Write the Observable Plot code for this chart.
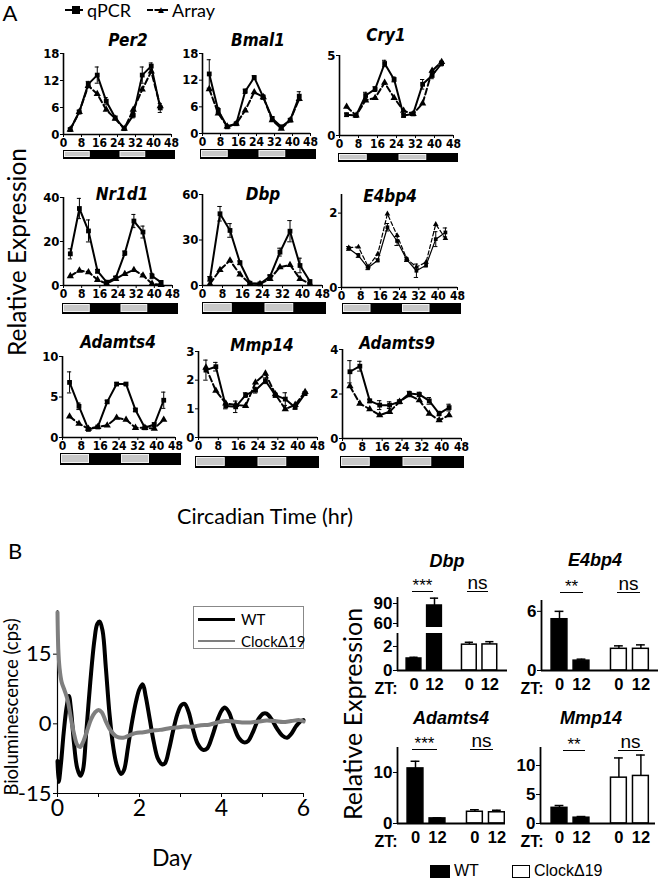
<!DOCTYPE html>
<html><head><meta charset="utf-8">
<script src="https://cdn.jsdelivr.net/npm/d3@7"></script>
<script src="https://cdn.jsdelivr.net/npm/@observablehq/plot@0.6"></script>
<style>
body{margin:0;background:#fff;}
#root{position:relative;width:663px;height:881px;overflow:hidden;background:#fff;font-family:Lato,sans-serif;color:#000;}
.t{position:absolute;white-space:nowrap;transform:translate(-50%,-50%);line-height:1;}
.l{position:absolute;white-space:nowrap;transform:translate(0,-50%);line-height:1;}
.abs{position:absolute;}
svg{overflow:visible;}
</style></head><body><div id="root"></div>
<script>
// ---------- Panel A data ----------
const ct = [3,7,11,15,19,23,27,31,35,39,43];
const xTicks = [0,8,16,24,32,40,48];
const phaseStart = [0,12,24,36];
const phaseEnd = [12,24,36,48];
const phaseLight = [true,false,true,false];

const per2Q = [1.1,5.0,11.2,13.2,7.4,3.7,1.3,4.3,13.2,15.2,5.9];
const per2A = [1.1,5.0,10.8,9.0,5.5,3.5,1.3,5.5,10.0,14.0,6.3];
const per2E = [0.3,0.4,0.6,1.8,0.8,0.3,0.3,0.6,1.8,0.7,1.0];

const bmal1Q = [13.4,5.2,1.5,2.2,9.5,12.6,8.2,3.4,1.5,3.0,8.4];
const bmal1A = [10.0,4.5,1.6,2.2,5.2,9.3,8.2,3.0,1.1,3.0,7.8];
const bmal1E = [3.2,0.6,0.3,0.3,0.5,0.4,0.5,0.4,0.3,0.3,1.0];

const cry1Q = [1.3,1.25,2.5,2.9,4.5,3.5,1.25,1.35,3.2,3.75,4.5];
const cry1A = [1.8,1.25,2.2,2.35,3.3,2.35,1.55,1.35,2.0,4.05,4.6];
const cry1E = [0.1,0.1,0.2,0.15,0.2,0.15,0.1,0.1,0.3,0.2,0.15];

const nr1d1Q = [14.4,35.0,24.8,6.5,1.5,3.5,14.7,29.3,24.3,4.3,1.4];
const nr1d1A = [4.3,6.8,6.1,2.6,0.8,3.0,5.3,7.1,4.6,0.8,0.3];
const nr1d1E = [2.3,4.6,5.0,0.8,0.5,0.6,1.0,3.0,2.7,1.2,0.4];

const dbpQ = [4.4,47.3,36.3,15.0,1.5,1.1,5.9,22.0,35.8,13.2,2.6];
const dbpA = [1.1,10.3,16.5,7.3,1.1,1.1,4.4,12.1,13.6,4.4,1.1];
const dbpE = [1.5,4.8,4.5,1.2,0.5,0.5,1.0,2.6,7.0,4.8,1.0];

const e4bp4Q = [1.05,0.86,0.53,0.73,1.62,1.25,0.75,0.45,0.6,1.3,1.48];
const e4bp4A = [1.07,1.09,0.56,0.9,1.98,1.4,0.77,0.55,0.68,1.7,1.32];
const e4bp4E = [0.05,0.05,0.05,0.04,0.1,0.12,0.05,0.18,0.05,0.2,0.12];

const adamts4Q = [6.8,3.85,1.0,1.3,4.4,6.6,6.6,3.4,1.2,1.6,4.6];
const adamts4A = [2.6,1.7,1.1,1.3,1.5,2.45,2.2,1.2,1.2,1.1,2.2];
const adamts4E = [1.3,0.4,0.1,0.1,0.2,0.15,0.15,0.2,0.1,0.2,1.0];

const mmp14Q = [2.35,2.47,1.1,1.07,1.48,1.65,1.98,1.48,1.34,1.05,1.53];
const mmp14A = [2.44,1.63,1.19,1.14,1.1,1.92,2.23,1.51,0.99,1.14,1.59];
const mmp14E = [0.35,0.15,0.1,0.2,0.08,0.1,0.1,0.08,0.22,0.06,0.06];

const adamts9Q = [3.0,3.25,1.69,1.5,1.5,1.65,2.02,1.98,1.69,1.12,1.39];
const adamts9A = [2.35,1.57,1.32,1.05,1.2,1.65,1.95,1.72,1.12,0.82,1.05];
const adamts9E = [0.5,0.22,0.08,0.2,0.15,0.08,0.1,0.1,0.15,0.1,0.15];

// ---------- Panel B data ----------
const wtDay = [0,0.03,0.08,0.15,0.22,0.28,0.33,0.40,0.48,0.56,0.62,0.70,0.80,0.90,0.97,1.03,1.10,1.18,1.27,1.36,1.45,1.55,1.62,1.72,1.82,1.92,2.00,2.08,2.15,2.25,2.35,2.45,2.55,2.62,2.72,2.82,2.92,3.02,3.10,3.20,3.30,3.42,3.55,3.65,3.78,3.90,4.00,4.08,4.18,4.30,4.42,4.55,4.65,4.78,4.90,5.02,5.10,5.22,5.35,5.48,5.60,5.70,5.82,5.92,6.00];
const wtCps = [-8,-12.5,-9,-2,3.5,6,3,-4,-9.5,-11.2,-10,-2,9,18,21.5,22,20,12,2,-5,-9,-10.8,-10,-5,0.5,5,7.5,8.5,6,1,-4,-7.5,-8.7,-8.5,-5.5,-1.5,2,4,4.3,2.5,-1,-4.3,-5.6,-5.3,-2.5,0.8,2.8,3.5,2.5,-0.5,-3,-4,-3.7,-1.5,1,2.2,2.2,1,-1,-2.5,-3,-2.2,-0.5,0.5,0.8];
const clockDay = [0,0.02,0.05,0.10,0.18,0.25,0.32,0.40,0.48,0.55,0.62,0.72,0.82,0.92,1.00,1.08,1.18,1.30,1.45,1.60,1.75,1.90,2.10,2.30,2.50,2.70,2.90,3.10,3.30,3.50,3.70,3.90,4.10,4.30,4.50,4.70,4.90,5.10,5.30,5.50,5.70,5.90,6.00];
const clockCps = [24,16,12,9,7,5,1.5,-2,-4.5,-5,-4,-1.5,1,2.5,3,2.5,0.5,-1.5,-2.8,-3,-2.5,-2,-1.8,-1.5,-1.3,-1,-0.8,-0.6,-0.6,-0.3,-0.2,0.3,0.6,0.5,0.3,0.3,0.5,0.7,0.6,0.4,0.6,0.8,0.5];

const genotype = ["WT","WT","Clock","Clock"];
const ztLabel = ["0","12","0","12"];
const dbpBar = [1.0,87,2.15,2.17];
const dbpBarErr = [0.1,11,0.2,0.23];
const e4bp4Bar = [5.2,1.0,2.2,2.2];
const e4bp4BarErr = [0.8,0.15,0.3,0.4];
const adamts4Bar = [10.8,1.0,2.3,2.2];
const adamts4BarErr = [1.4,0.1,0.4,0.4];
const mmp14Bar = [2.7,1.0,7.9,8.2];
const mmp14BarErr = [0.4,0.2,3.4,3.6];

// ---------- helpers ----------
const root = document.getElementById("root");
function place(el, left, top){ el.style.position="absolute"; el.style.left=left+"px"; el.style.top=top+"px"; root.appendChild(el); return el; }
function text(str, x, y, css, cls){ const d=document.createElement("div"); d.className=cls||"t"; d.textContent=str; d.style.left=x+"px"; d.style.top=y+"px"; Object.assign(d.style, css||{}); root.appendChild(d); return d; }
function hline(x1,x2,y,w,color,style){ const d=document.createElement("div"); d.className="abs"; Object.assign(d.style,{left:x1+"px",top:(y-w/2)+"px",width:(x2-x1)+"px",height:"0px",borderTop:w+"px "+(style||"solid")+" "+(color||"#000")}); root.appendChild(d); return d; }

const narrow = "'Liberation Sans Narrow','DejaVu Sans Condensed','Arial Narrow','Liberation Sans',sans-serif";
const arial = "'Liberation Sans',Arial,sans-serif";
const fmt = d => String(d);
const phases = phaseStart.map((s,i)=>({start:s,end:phaseEnd[i],light:phaseLight[i]}));

function lightBar(b){
  const svg = Plot.plot({
    width:b[1]-b[0], height:b[3]-b[2], margin:0,
    x:{domain:[0,48],axis:null}, y:{domain:[0,1],axis:null},
    style:{background:"transparent"},
    marks:[
      Plot.frame({fill:"black", stroke:"black"}),
      Plot.rect(phases.filter(d=>d.light),{x1:"start",x2:"end",y1:0,y2:1,fill:"#c8c8c8",stroke:"#f2f2f2",strokeWidth:1,inset:1.5})
    ]
  });
  place(svg, b[0], b[2]);
}

function linePanel(g){
  const ml=30, mr=8, mt=8, mb=20;
  const W = g.x0b[1]-g.x0b[0]+ml+mr;
  const H = g.y0 - g.yTopPx + mt + mb;
  const q = ct.map((t,i)=>({t, v:g.q[i], e:g.e[i]}));
  const a = ct.map((t,i)=>({t, v:g.a[i]}));
  const sw = g.thin ? 1.2 : 2;
  const r = g.thin ? 2.1 : 2.7;
  const svg = Plot.plot({
    width:W, height:H, marginLeft:ml, marginRight:mr, marginTop:mt, marginBottom:mb,
    x:{domain:[0,48]}, y:{domain:[0,g.yTop]},
    style:{fontFamily:narrow, fontWeight:"bold", fontSize:"12px", color:"black", background:"transparent"},
    marks:[
      Plot.axisX({ticks:xTicks, tickFormat:fmt, tickSize:3, tickPadding:1, label:null, fontSize:12}),
      Plot.axisY({ticks:g.yTicks, tickFormat:fmt, tickSize:3, tickPadding:1, label:null, fontSize:13}),
      Plot.ruleX([0],{strokeWidth:1.6}),
      Plot.ruleY([0],{strokeWidth:1.6}),
      Plot.ruleX(q,{x:"t", y1:d=>Math.max(0,d.v-d.e), y2:d=>d.v+d.e, strokeWidth:1}),
      Plot.ruleY(q,{y:d=>d.v+d.e, x1:d=>d.t-0.9, x2:d=>d.t+0.9, strokeWidth:1}),
      Plot.ruleY(q.filter(d=>d.v-d.e>0),{y:d=>d.v-d.e, x1:d=>d.t-0.9, x2:d=>d.t+0.9, strokeWidth:1}),
      Plot.line(a,{x:"t", y:"v", strokeWidth:sw, strokeDasharray:g.thin?"4,2.5":"6,3"}),
      Plot.dot(a,{x:"t", y:"v", symbol:"triangle", r:r, fill:"black"}),
      Plot.line(q,{x:"t", y:"v", strokeWidth:sw}),
      Plot.dot(q,{x:"t", y:"v", symbol:"square", r:r, fill:"black"})
    ]
  });
  place(svg, g.x0b[0]-ml, g.yTopPx-mt);
  lightBar(g.bar);
  text(g.title, g.tp[0], g.tp[1], {fontFamily:narrow, fontWeight:"bold", fontStyle:"italic", fontSize:"17px"});
}

const linePanels = [
  {title:"Per2", q:per2Q, a:per2A, e:per2E, x0b:[63,171], y0:134, yTopPx:53, yTop:18, yTicks:[0,6,12,18], bar:[63,174,150,158], tp:[128,40]},
  {title:"Bmal1", q:bmal1Q, a:bmal1A, e:bmal1E, x0b:[202,310], y0:133, yTopPx:53, yTop:18, yTicks:[0,6,12,18], bar:[200,315,149,158], tp:[258,40]},
  {title:"Cry1", q:cry1Q, a:cry1A, e:cry1E, x0b:[339,453], y0:135, yTopPx:55, yTop:5, yTicks:[0,5], bar:[338,457,153,161], tp:[386,35]},
  {title:"Nr1d1", q:nr1d1Q, a:nr1d1A, e:nr1d1E, x0b:[63,172], y0:285, yTopPx:197, yTop:40, yTicks:[0,20,40], bar:[62,177,303,313], tp:[122,194]},
  {title:"Dbp", q:dbpQ, a:dbpA, e:dbpE, x0b:[202,322], y0:285, yTopPx:194, yTop:60, yTicks:[0,30,60], bar:[202,325,302,313], tp:[263,194]},
  {title:"E4bp4", q:e4bp4Q, a:e4bp4A, e:e4bp4E, x0b:[341,457], y0:287, yTopPx:194, yTop:2.5, yTicks:[0,2], bar:[342,460,303,313], tp:[390,196], thin:true},
  {title:"Adamts4", q:adamts4Q, a:adamts4A, e:adamts4E, x0b:[62,175], y0:437, yTopPx:356, yTop:10, yTicks:[0,5,10], bar:[60,180,453,464], tp:[118,342]},
  {title:"Mmp14", q:mmp14Q, a:mmp14A, e:mmp14E, x0b:[198,317], y0:437, yTopPx:351, yTop:3, yTicks:[0,1,2,3], bar:[195,318,456,467], tp:[262,345]},
  {title:"Adamts9", q:adamts9Q, a:adamts9A, e:adamts9E, x0b:[342,461], y0:438, yTopPx:349, yTop:4, yTicks:[0,2,4], bar:[340,463,456,467], tp:[397,343]}
];
linePanels.forEach(linePanel);

// Panel A labels and legend
text("A", 10, 13, {fontSize:"22px"});
hline(65,83,10,2.5);
(function(){const s=document.createElement("div"); Object.assign(s.style,{left:"72px",top:"6px",width:"8px",height:"8px",background:"#000"}); s.className="abs"; root.appendChild(s);})();
text("qPCR", 87, 10, {fontSize:"18px"}, "l");
hline(147,168,10,2.5,"#000","dashed");
text("▲", 161, 9, {fontSize:"10px"});
text("Array", 172, 10, {fontSize:"18px"}, "l");
text("Relative Expression", 17, 252, {fontSize:"24.5px", transform:"translate(-50%,-50%) rotate(-90deg)"});
text("Circadian Time (hr)", 265, 517, {fontSize:"21.5px"});

// ---------- Panel B: bioluminescence ----------
(function(){
  const ml=45, mr=10, mt=5, mb=30;
  const x0=57, x6=303, yTopPx=610, yBot=793;
  const wt = wtDay.map((d,i)=>({day:d, cps:wtCps[i]}));
  const ck = clockDay.map((d,i)=>({day:d, cps:clockCps[i]}));
  const svg = Plot.plot({
    width:x6-x0+ml+mr, height:yBot-yTopPx+mt+mb, marginLeft:ml, marginRight:mr, marginTop:mt, marginBottom:mb,
    x:{domain:[0,6]}, y:{domain:[-15,24.4]},
    style:{fontFamily:"Lato,sans-serif", fontSize:"22px", color:"black", background:"transparent"},
    marks:[
      Plot.axisX({ticks:[0,1,2,3,4,5,6], tickFormat:d=>d%2===0?String(d):"", tickSize:4, tickPadding:2, label:null, fontSize:23}),
      Plot.axisY({ticks:[-15,0,15], tickFormat:fmt, tickSize:4, tickPadding:2, label:null, fontSize:22}),
      Plot.ruleX([0],{strokeWidth:1.2}),
      Plot.ruleY([-15],{strokeWidth:1.2}),
      Plot.line(wt,{x:"day", y:"cps", stroke:"black", strokeWidth:4, curve:"catmull-rom"}),
      Plot.line(ck,{x:"day", y:"cps", stroke:"#7f7f7f", strokeWidth:4, curve:"catmull-rom"})
    ]
  });
  place(svg, x0-ml, yTopPx-mt);
})();
text("B", 15, 551, {fontSize:"22px"});
text("Day", 172, 857, {fontSize:"23px"});
text("Bioluminescence (cps)", 11, 707, {fontSize:"18.5px", transform:"translate(-50%,-50%) rotate(-90deg)"});
(function(){
  const box=document.createElement("div"); box.className="abs";
  Object.assign(box.style,{left:"193px",top:"606px",width:"111px",height:"43px",border:"1px solid #888",boxSizing:"border-box"});
  root.appendChild(box);
})();
hline(198,235,619,3,"#000");
text("WT", 241, 619, {fontSize:"15px"}, "l");
hline(198,235,641,2,"#7f7f7f");
text("ClockΔ19", 241, 641, {fontSize:"15px"}, "l");

// ---------- Panel B: bar charts ----------
const GAP = 2.7;
function barSeg(c, seg, withLabels){
  const ml=30, mr=4, mt=4, mb=withLabels?28:4;
  const xMin=(c.axis-c.slot0)/c.step, xMax=(c.right-c.slot0)/c.step;
  const data = genotype.map((g,i)=>({g, zt:ztLabel[i], slot:(g==="WT"?0:GAP)+(i%2), v:c.v[i], e:c.e[i]}));
  const inSeg = data.filter(d=>d.v>seg.domain[0]);
  const errs = data.filter(d=>d.v+d.e>seg.domain[0] && d.v+d.e<=seg.domain[1]);
  const marks = [
    Plot.axisY({ticks:seg.ticks, tickFormat:fmt, tickSize:4, tickPadding:1, label:null, fontSize:17}),
    Plot.ruleX([xMin],{strokeWidth:1.8}),
    Plot.ruleX(errs,{x:"slot", y1:"v", y2:d=>d.v+d.e, strokeWidth:1.5}),
    Plot.ruleY(errs,{y:d=>d.v+d.e, x1:d=>d.slot-0.2, x2:d=>d.slot+0.2, strokeWidth:1.5}),
    Plot.rectY(inSeg,{x1:d=>d.slot-0.36, x2:d=>d.slot+0.36, y1:seg.domain[0], y2:"v", fill:d=>d.g==="WT"?"black":"white", stroke:"black", strokeWidth:1.5, clip:true})
  ];
  if (withLabels){
    marks.push(Plot.ruleY([0],{strokeWidth:1.8}));
    marks.push(Plot.text(data,{x:"slot", text:"zt", frameAnchor:"bottom", dy:19, fontSize:16.5, fontWeight:"bold"}));
  }
  const svg = Plot.plot({
    width:c.right-c.axis+ml+mr, height:seg.y0-seg.top+mt+mb, marginLeft:ml, marginRight:mr, marginTop:mt, marginBottom:mb,
    x:{domain:[xMin,xMax], axis:null}, y:{domain:seg.domain},
    style:{fontFamily:arial, fontWeight:"bold", fontSize:"17px", color:"black", background:"transparent"},
    marks
  });
  place(svg, c.axis-ml, seg.top-mt);
}
function barPanel(c){
  c.segs.forEach((s,i)=>barSeg(c, s, i===0));
  text(c.title, c.tp[0], c.tp[1], {fontFamily:arial, fontWeight:"bold", fontStyle:"italic", fontSize:"18px"});
  text("ZT:", c.zt[0], c.zt[1], {fontFamily:arial, fontWeight:"bold", fontSize:"16px"});
  c.sig.forEach(s=>{
    text(s[0], (s[1]+s[2])/2, s[3]-10 + (s[0]==="ns"?0:3), {fontFamily:arial, fontSize:s[0]==="ns"?"19px":"17px"});
    hline(s[1], s[2], s[3], 1.5);
  });
}
const barPanels = [
  {title:"Dbp", v:dbpBar, e:dbpBarErr, axis:397, slot0:413.5, step:20.5, right:507, tp:[447,561], zt:[386,689],
   segs:[{domain:[0,3.08], y0:670, top:633, ticks:[0,2]}, {domain:[54,99], y0:627, top:597, ticks:[60,90]}],
   sig:[["***",412,433,592],["ns",467,488,592]]},
  {title:"E4bp4", v:e4bp4Bar, e:e4bp4BarErr, axis:541, slot0:559, step:22, right:658, tp:[595,560], zt:[532,689],
   segs:[{domain:[0,7.1], y0:670, top:600, ticks:[0,6]}],
   sig:[["**",560,583,593],["ns",617,640,593]]},
  {title:"Adamts4", v:adamts4Bar, e:adamts4BarErr, axis:397, slot0:415, step:22, right:505, tp:[451,718], zt:[386,842],
   segs:[{domain:[0,14.9], y0:823, top:747, ticks:[0,10]}],
   sig:[["***",412,437,750],["ns",470,493,750]]},
  {title:"Mmp14", v:mmp14Bar, e:mmp14BarErr, axis:540, slot0:559, step:22, right:655, tp:[591,718], zt:[532,842],
   segs:[{domain:[0,13.1], y0:823, top:747, ticks:[0,5,10]}],
   sig:[["**",563,585,751],["ns",618,643,751]]}
];
barPanels.forEach(barPanel);

text("Relative Expression", 352, 714, {fontSize:"25px", transform:"translate(-50%,-50%) rotate(-90deg)"});
// bottom legend
(function(){
  const a=document.createElement("div"); a.className="abs"; Object.assign(a.style,{left:"430px",top:"865px",width:"20px",height:"13px",background:"#000"}); root.appendChild(a);
  const b=document.createElement("div"); b.className="abs"; Object.assign(b.style,{left:"512px",top:"865px",width:"18px",height:"13px",border:"1.5px solid #000",boxSizing:"border-box"}); root.appendChild(b);
})();
text("WT", 454, 871, {fontFamily:arial, fontSize:"16px"}, "l");
text("ClockΔ19", 534, 871, {fontFamily:arial, fontSize:"16px"}, "l");
</script></body></html>
